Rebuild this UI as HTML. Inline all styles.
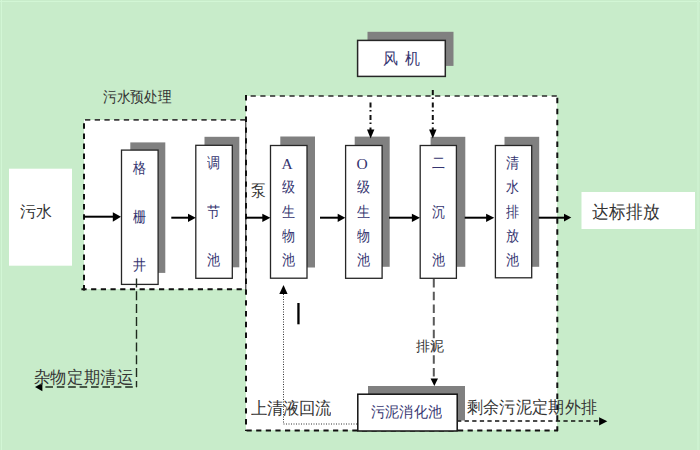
<!DOCTYPE html>
<html><head><meta charset="utf-8">
<style>
html,body{margin:0;padding:0;}
body{width:700px;height:450px;background:#c8ecca;position:relative;overflow:hidden;font-family:"Liberation Sans",sans-serif;}
svg{position:absolute;left:0;top:0;}
.t{position:absolute;white-space:nowrap;line-height:1;color:#333;}
.n{color:#34346f;}
.v{position:absolute;text-align:center;color:#34346f;font-size:14px;line-height:24.3px;}
.ln{height:24.3px;}
.g{display:inline-block;transform:scale(0.93,1.07);}
.ser{font-family:"Liberation Serif",serif;font-size:15.5px;position:relative;left:-1.5px;top:0.5px;}
</style></head><body>
<svg width="700" height="450" viewBox="0 0 700 450">
  <!-- white panels -->
  <rect x="0" y="1" width="700" height="1" fill="#d2f6d5"/>
  <rect x="1" y="0" width="1" height="450" fill="#d2f6d5"/>
  <rect x="697" y="0" width="2" height="450" fill="#cdf1d0"/>
  <rect x="9" y="168.7" width="63" height="97" fill="#fff"/>
  <rect x="581.5" y="192" width="113.5" height="37" fill="#fff"/>
  <rect x="84" y="120" width="162" height="169" fill="#fff"/>
  <rect x="246" y="96" width="311" height="334" fill="#fff"/>
  <!-- dashed boxes -->
  <g fill="none">
    <path d="M85 119.8 H246" stroke="#3a3a3a" stroke-width="1.7" stroke-dasharray="5.3 4.4"/>
    <path d="M84 123.3 V291" stroke="#111" stroke-width="2" stroke-dasharray="5.5 4.6"/>
    <path d="M81.4 289.2 H246" stroke="#111" stroke-width="2" stroke-dasharray="5.2 4.5"/>
    <path d="M245 96 H558" stroke="#2a2a2a" stroke-width="1.7" stroke-dasharray="5.2 4.51" stroke-dashoffset="4.1"/>
    <path d="M245.8 120 V290" stroke="#222" stroke-width="1.1"/>
    <path d="M246 95 V431" stroke="#111" stroke-width="2" stroke-dasharray="5.4 5.4"/>
    <path d="M557.3 95 V431" stroke="#111" stroke-width="2" stroke-dasharray="5.5 5.45" stroke-dashoffset="8.15"/>
    <path d="M245 430.5 H558" stroke="#111" stroke-width="2" stroke-dasharray="5.2 4.41" stroke-dashoffset="8.05"/>
  </g>
  <!-- shadows -->
  <g fill="#808080">
    <rect x="130.3" y="142.4" width="35" height="130.5"/>
    <rect x="204.5" y="136.8" width="34.8" height="130.5"/>
    <rect x="280.3" y="136.5" width="34.7" height="131"/>
    <rect x="354.7" y="136.6" width="35" height="130.2"/>
    <rect x="430.6" y="136.8" width="34.7" height="130"/>
    <rect x="504.5" y="136.8" width="34.7" height="130"/>
    <rect x="367.5" y="31.8" width="86" height="34.1"/>
    <rect x="368" y="386" width="97" height="34.5"/>
  </g>
  <!-- boxes -->
  <g fill="#fff" stroke="#262626" stroke-width="1.3">
    <rect x="121.5" y="150.1" width="36.6" height="134.3"/>
    <rect x="195.8" y="145.3" width="36.5" height="133"/>
    <rect x="270.5" y="145.5" width="36.5" height="132.7"/>
    <rect x="345.6" y="145.5" width="36.5" height="132.8"/>
    <rect x="420.2" y="145.5" width="36.2" height="132.8"/>
    <rect x="495.4" y="145.5" width="36.3" height="132.3"/>
    <rect x="357.6" y="40.4" width="87.7" height="36" stroke-width="1.5"/>
  </g>
  <!-- solid arrows -->
  <g stroke="#000" stroke-width="2" fill="none">
    <path d="M84 216.7 H114"/>
    <path d="M171.3 217.7 H189"/>
    <path d="M246 217.7 H263"/>
    <path d="M320 217.7 H338"/>
    <path d="M389 217.7 H412"/>
    <path d="M464.7 217.7 H487"/>
    <path d="M538.7 217.7 H565"/>
  </g>
  <g fill="#000">
    <path d="M112.8 212.2 L121 216.7 L112.8 221.7Z"/>
    <path d="M188 213.7 L195.8 217.7 L188 222Z"/>
    <path d="M262.3 213.7 L270.4 217.7 L262.3 222Z"/>
    <path d="M337.7 213.7 L345.3 217.7 L337.7 222Z"/>
    <path d="M411.9 213.7 L420 217.7 L411.9 222Z"/>
    <path d="M486.1 213.7 L494.3 217.7 L486.1 222Z"/>
    <path d="M564 213.7 L571.3 217.6 L564 221.4Z"/>
  </g>
  <!-- dash-dot from blower -->
  <g stroke="#111" stroke-width="2" fill="none" stroke-dasharray="5 2.5 1.5 3.5">
    <path d="M370.5 102.5 V131"/>
    <path d="M432.8 90 V131"/>
  </g>
  <g fill="#000">
    <path d="M367 129.5 L374.4 129.5 L370.6 138.4Z"/>
    <path d="M429.1 129.5 L436.5 129.5 L432.8 138.4Z"/>
  </g>
  <!-- sludge vertical dashed -->
  <path d="M433.8 279 V379" stroke="#5a5a5a" stroke-width="2" stroke-dasharray="8.5 4.2" fill="none"/>
  <path d="M430.6 378.6 L438 378.6 L434.3 386Z" fill="#000"/>
  <!-- return dotted -->
  <path d="M357 424 H283.5 V294" stroke="#333" stroke-width="1" stroke-dasharray="1 1.5" fill="none"/>
  <path d="M279.3 294 L287.6 294 L283.5 285Z" fill="#000"/>
  <!-- excess sludge dashed -->
  <path d="M458 421 H600" stroke="#111" stroke-width="1.7" stroke-dasharray="4.3 3.3" stroke-dashoffset="1" fill="none"/>
  <path d="M599.1 417.3 L607.3 421.2 L599.1 425.4Z" fill="#000"/>
  <!-- grit removal dashed -->
  <path d="M136.5 278.5 V387" stroke="#1e2a1e" stroke-width="1.4" stroke-dasharray="9 3.8" fill="none"/>
  <path d="M45.4 387 H137" stroke="#1e2a1e" stroke-width="1.4" stroke-dasharray="7.6 3.8" fill="none"/>
  <path d="M42.4 383 L35 387.1 L42.4 391.3Z" fill="#000"/>
  <!-- small bar -->
  <rect x="297.3" y="303" width="2.3" height="21.3" fill="#000"/>
  <!-- sludge digestion box (on top of border) -->
  <rect x="357.8" y="394.2" width="99.4" height="36.8" fill="#fff" stroke="#111" stroke-width="1.5"/>
</svg>

<div class="t" style="left:103px;top:89px;font-size:14px;transform:scale(0.98,1.07);transform-origin:0 0;">污水预处理</div>
<div class="t" style="left:20px;top:204px;font-size:16px;">污水</div>
<div class="t" style="left:592px;top:202.5px;font-size:17px;transform:scaleY(1.08);transform-origin:0 0;">达标排放</div>
<div class="t n" style="left:383px;top:50px;font-size:15px;transform:scaleY(1.07);transform-origin:0 0;">风<span style="display:inline-block;width:6.5px"></span>机</div>
<div class="t" style="left:251px;top:182px;font-size:15px;transform:scaleY(1.08);transform-origin:0 0;">泵</div>
<div class="t" style="left:416px;top:339px;font-size:14px;">排泥</div>
<div class="t" style="left:251px;top:400px;font-size:16px;transform:scaleY(1.04);transform-origin:0 0;">上清液回流</div>
<div class="t" style="left:466.5px;top:399px;font-size:16px;letter-spacing:0.4px;transform:scaleY(1.06);transform-origin:0 0;">剩余污泥定期外排</div>
<div class="t" style="left:33.7px;top:368.5px;font-size:16px;letter-spacing:0.7px;transform:scaleY(1.05);transform-origin:0 0;">杂物定期清运</div>
<div class="t n" style="left:371px;top:404px;font-size:14px;letter-spacing:0.2px;transform:scaleY(1.07);transform-origin:0 0;">污泥消化池</div>

<div class="v" style="left:121px;top:156px;width:37px;"><div class="ln"><span class="g">格</span></div><div class="ln"></div><div class="ln"><span class="g">栅</span></div><div class="ln"></div><div class="ln"><span class="g">井</span></div></div>
<div class="v" style="left:195px;top:151px;width:37px;"><div class="ln"><span class="g">调</span></div><div class="ln"></div><div class="ln"><span class="g">节</span></div><div class="ln"></div><div class="ln"><span class="g">池</span></div></div>
<div class="v" style="left:270px;top:151px;width:37px;"><div class="ln"><span class="ser">A</span></div><div class="ln"><span class="g">级</span></div><div class="ln"><span class="g">生</span></div><div class="ln"><span class="g">物</span></div><div class="ln"><span class="g">池</span></div></div>
<div class="v" style="left:345px;top:151px;width:37px;"><div class="ln"><span class="ser">O</span></div><div class="ln"><span class="g">级</span></div><div class="ln"><span class="g">生</span></div><div class="ln"><span class="g">物</span></div><div class="ln"><span class="g">池</span></div></div>
<div class="v" style="left:420px;top:151px;width:37px;"><div class="ln"><span class="g">二</span></div><div class="ln"></div><div class="ln"><span class="g">沉</span></div><div class="ln"></div><div class="ln"><span class="g">池</span></div></div>
<div class="v" style="left:494px;top:151px;width:37px;"><div class="ln"><span class="g">清</span></div><div class="ln"><span class="g">水</span></div><div class="ln"><span class="g">排</span></div><div class="ln"><span class="g">放</span></div><div class="ln"><span class="g">池</span></div></div>
</body></html>
